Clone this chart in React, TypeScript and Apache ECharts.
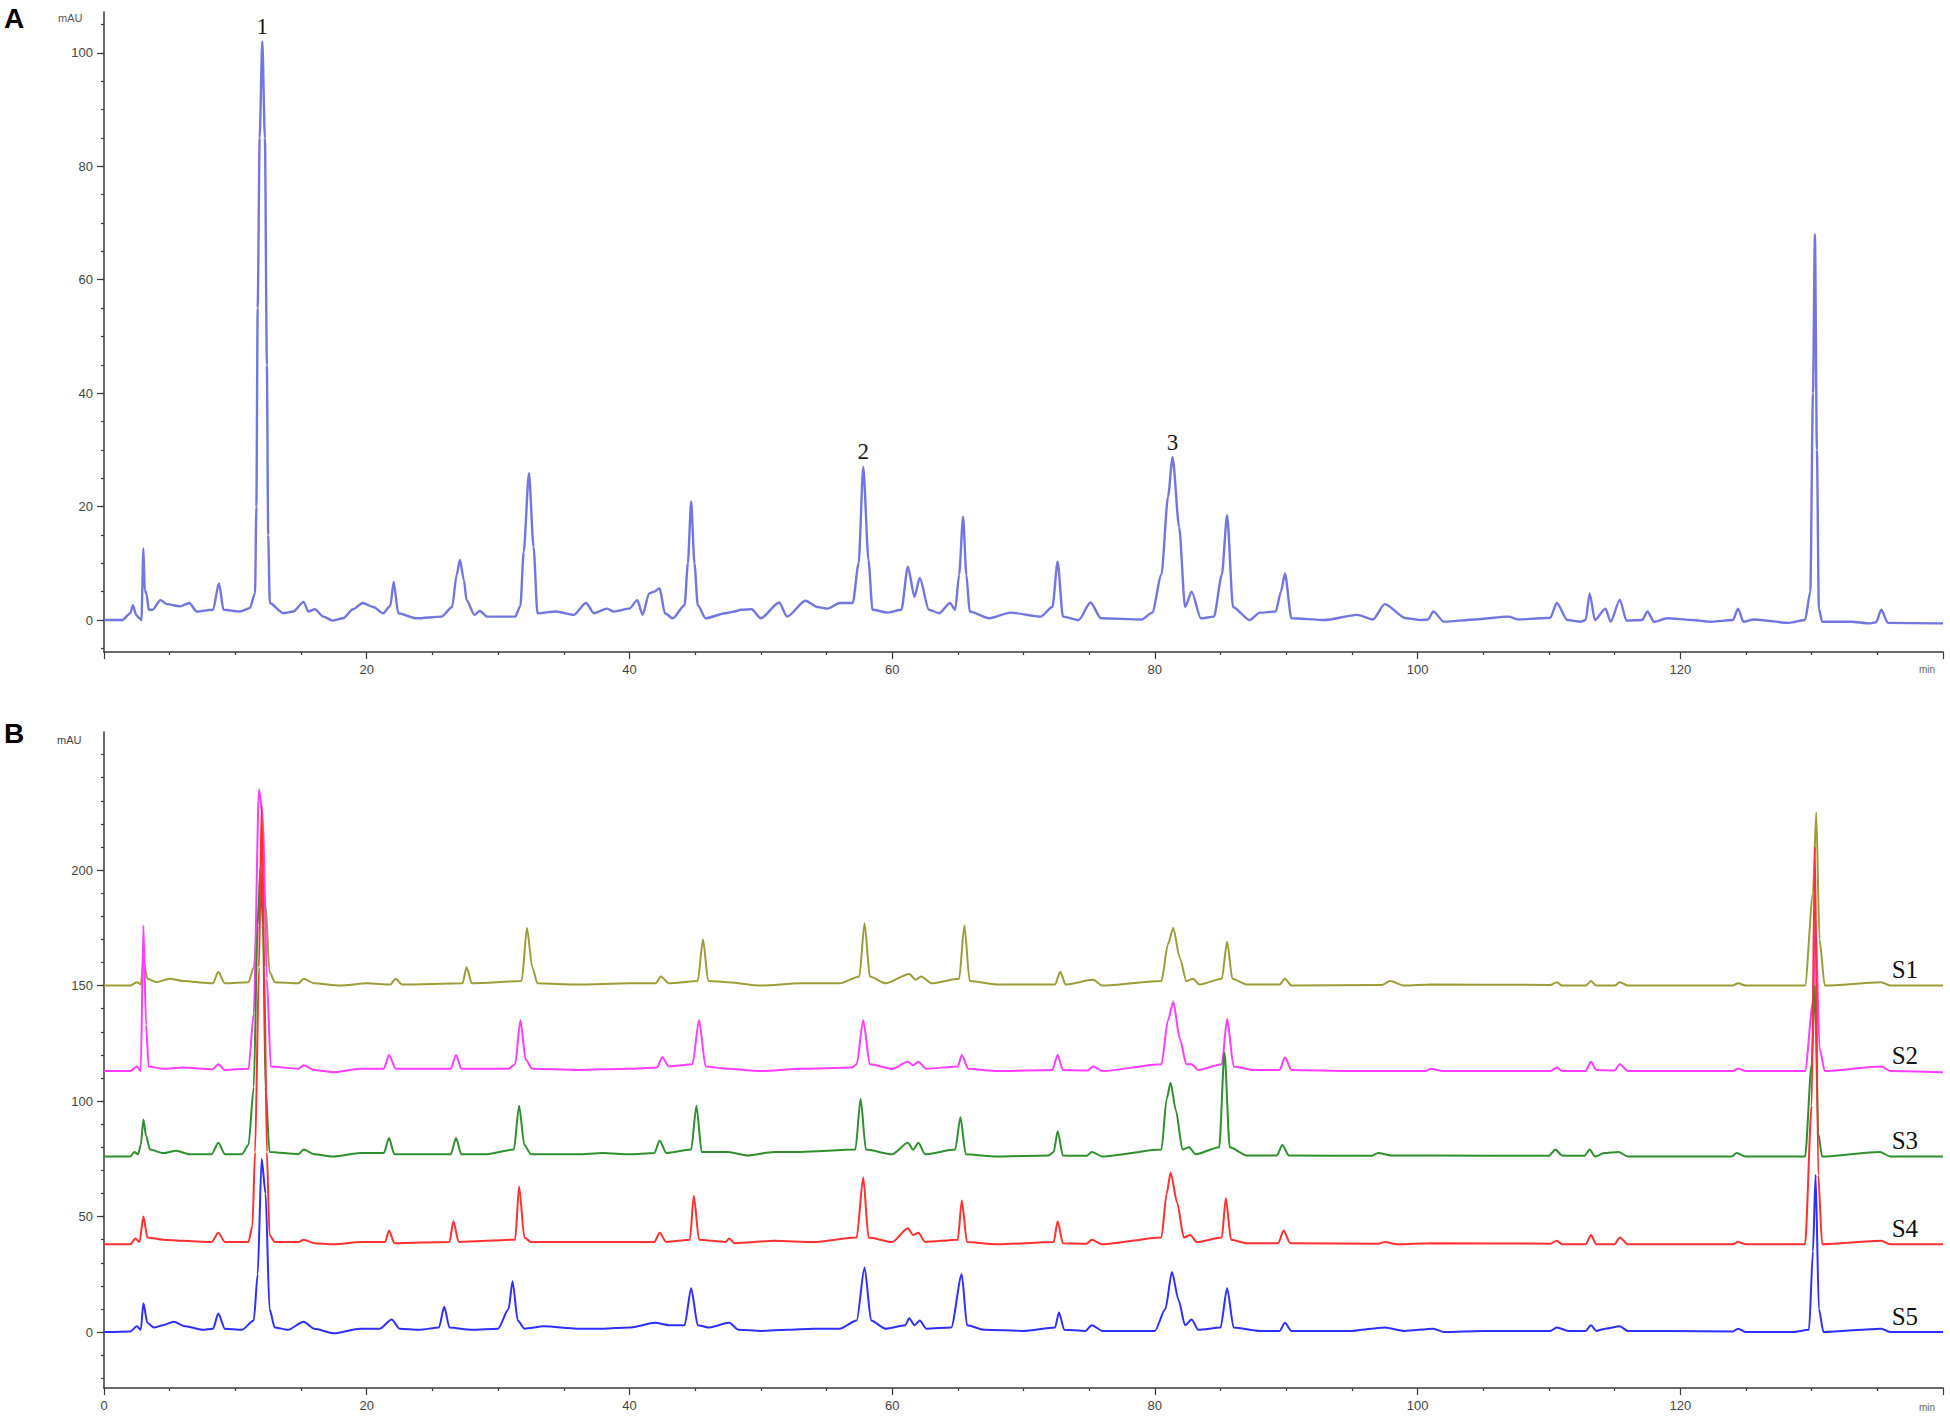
import React, { useEffect, useRef } from "react";
import * as echarts from "echarts";

// ---------- Panel A: single chromatogram (time min, mAU) ----------
const traceA: [number, number][] = [
  [0,0],[1.4,0],[2.0,1.2],[2.2,2.6],[2.45,0.9],[2.7,0.3],[2.85,0],[3.0,12.6],[3.1,5.3],[3.25,4.5],[3.4,1.8],[3.7,1.8],[4.3,3.5],[4.8,2.8],[5.8,2.4],[6.5,3.0],[7.05,1.5],[8.3,1.8],[8.75,6.5],[9.1,1.8],[10.35,1.5],[11.1,2.1],[11.5,4.7],[11.6,20],[11.7,55],[11.85,85],[12.05,102],[12.25,85],[12.4,45],[12.5,15],[12.62,3],[13.65,1.2],[14.4,1.5],[15.2,3.2],[15.55,1.5],[16.05,1.9],[16.7,0.6],[17.4,-0.1],[18.2,0.3],[18.95,1.9],[19.7,3.0],[20.5,2.3],[21.25,1.2],[21.8,2.5],[22.05,6.7],[22.4,1.2],[23.8,0.3],[25.7,0.6],[26.5,2.3],[26.85,8],[27.1,10.6],[27.4,7],[27.6,3.5],[28.2,0.9],[28.6,1.6],[29.2,0.6],[31.3,0.6],[31.7,2.5],[31.95,12],[32.35,25.9],[32.7,12.9],[33.0,1.2],[34.4,1.5],[35.75,0.9],[36.7,3.0],[37.3,1.2],[38.3,2.0],[38.8,1.5],[40,2.0],[40.6,3.5],[41.0,0.9],[41.5,4.7],[41.9,5.0],[42.3,5.6],[42.7,1.2],[43.3,0.3],[44.2,2.6],[44.45,10],[44.7,20.9],[44.95,10],[45.2,2.6],[45.8,0.3],[47.3,1.2],[48.0,1.5],[48.5,1.8],[49.3,1.9],[50,0.3],[51.4,3.1],[52,0.6],[53.4,3.4],[54.3,2.3],[55.1,2.0],[56,3.0],[57,3.0],[57.45,10],[57.8,27],[58.2,10.6],[58.5,1.8],[59.7,1.3],[60.7,1.8],[61.2,9.4],[61.7,4.1],[62.1,7.4],[62.8,1.8],[63.6,1.2],[64.4,3.0],[64.8,1.8],[65.1,8],[65.4,18.2],[65.65,8],[65.9,1.5],[67.4,0.3],[69,1.3],[71.3,0.6],[72.2,2.3],[72.6,10.3],[73,0.6],[74.2,0],[75.1,3.1],[75.9,0.3],[79,0.1],[79.8,1.3],[80.5,8],[81.0,21.7],[81.35,28.7],[81.85,16.4],[82.3,2.3],[82.8,5.0],[83.5,0.3],[84.5,0.6],[85.1,8],[85.5,18.5],[85.95,2.3],[87.2,0],[88.0,1.3],[89.2,1.5],[89.6,5],[89.9,8.2],[90.4,0.3],[92.9,0],[95.4,0.9],[96.6,0.1],[97.5,2.8],[99.1,0.3],[100.3,0],[100.8,0.1],[101.2,1.5],[102,-0.3],[104.4,0.1],[106.9,0.6],[107.7,0.1],[109.4,0.3],[110.1,0.4],[110.6,3.0],[111.4,0],[112.4,-0.3],[112.8,0],[113.1,4.7],[113.5,0],[114.3,2.0],[114.7,-0.3],[115.4,3.6],[115.9,-0.1],[117.1,0],[117.5,1.5],[118,-0.3],[119,0.3],[120.9,0],[122.3,-0.3],[124.0,0],[124.4,2.0],[124.8,-0.3],[125.6,0.1],[128.3,-0.5],[129.5,0],[129.9,5],[130.1,40],[130.25,68],[130.4,30],[130.55,2],[130.8,-0.3],[133,-0.3],[134.4,-0.6],[134.9,-0.4],[135.3,1.8],[135.8,-0.5],[139.5,-0.6],[140,-0.6]
];
const peakLabelsA = ["1", "2", "3"];
const peakTimesA = [12.05, 57.8, 81.35];
const peakHeightsA = [102, 27, 28.7];

// ---------- Panel B: five samples, values relative to each baseline ----------
const sampleNames = ["S1", "S2", "S3", "S4", "S5"];
const sampleBaselines = [150, 113, 76, 38, 0];

const traceS1: [number, number][] = [
  [0,0],[2,0],[2.5,1.5],[2.8,0.5],[3.0,11],[3.3,3],[4,1.5],[5,3],[6,2],[8.3,1],[8.7,6],[9.2,1],[11,1.5],[11.4,8],[11.8,35],[12.0,48],[12.3,35],[12.6,6],[13,1.5],[14.8,1],[15.2,3],[16,1],[18,0],[20,1],[21.8,0.5],[22.2,3],[22.7,0.5],[27.3,1],[27.6,8],[28,1],[31.8,2],[32.2,25],[32.6,8],[33,1],[36,0.5],[40,1],[42,1],[42.4,4],[43,1],[45.2,2],[45.6,20],[46,2],[47.5,1.5],[50,0],[53,1],[56,1],[57.5,4],[57.9,27],[58.3,4],[59.5,1],[61.3,5],[61.8,2.5],[62.2,4],[63,1],[65.1,3],[65.5,26],[65.9,2],[68,0.5],[72.4,0.5],[72.8,6],[73.2,0.5],[75.3,2.5],[76,0],[80.5,2],[81.0,18],[81.4,25],[81.9,12],[82.4,2],[82.9,3],[83.4,0.5],[85.1,3],[85.5,19],[85.9,3],[87,0.5],[89.5,0.5],[89.9,3],[90.4,0],[97.3,0.3],[97.9,2],[99,0],[101,0.5],[110.1,0.3],[110.6,1.5],[111,0],[112.8,0],[113.2,2],[113.6,0],[115.0,0],[115.4,1.5],[116,0],[124,0],[124.4,1],[125,0],[129.5,0],[130.1,40],[130.35,75],[130.6,20],[131,0],[135.3,1.5],[136,0],[140,0]
];
const traceS2: [number, number][] = [
  [0,0],[2,0],[2.5,2],[2.8,0],[3.0,63],[3.2,20],[3.4,2],[4.5,1],[6,1.5],[8.3,0.8],[8.7,3],[9.2,0.5],[11,1],[11.4,25],[11.8,122],[12.1,110],[12.4,40],[12.7,2],[14.8,1],[15.2,2.5],[16,0.5],[17.5,-0.5],[19.5,1],[21.3,1],[21.7,7],[22.2,1],[26.4,1],[26.8,7],[27.2,1],[30.8,1],[31.3,3],[31.7,22],[32.1,5],[32.6,1],[36,0.5],[40,1],[42.1,1.5],[42.5,6],[43,2],[44.8,3],[45.3,22],[45.8,2],[47.5,1],[50,0],[53,1],[56.9,1.5],[57.3,3],[57.8,22],[58.3,3],[60,1],[61.2,4],[61.6,2.5],[62,4],[62.6,1],[65.0,2],[65.3,7],[65.8,1],[68,0],[72.2,0.5],[72.6,7],[73,0.5],[74.9,0.3],[75.3,2],[76,0],[80.5,3],[81.0,22],[81.4,30],[81.9,14],[82.4,3],[82.8,3],[83.3,0.5],[85.1,3],[85.5,22.5],[86,2],[87.5,0.5],[89.5,0.5],[89.9,6],[90.4,0.5],[95,0],[100.6,0],[101,1],[102,0],[110.1,0],[110.6,1.5],[111,0],[112.8,0],[113.2,4],[113.6,0.5],[115,0.3],[115.4,3],[116,0],[124,0],[124.4,1],[125,0],[129.5,0],[130.1,30],[130.3,65],[130.6,10],[131,0],[135.3,2],[136,0],[140,-0.5]
];
const traceS3: [number, number][] = [
  [0,0],[2,0],[2.3,2],[2.6,1],[2.8,5],[3.0,16],[3.2,9],[3.5,3],[4.5,1.5],[5.5,2.5],[6.5,1],[8.2,1],[8.7,6],[9.2,1],[10.5,1],[11.0,5],[11.4,30],[11.7,100],[11.9,125],[12.1,100],[12.3,30],[12.6,2],[14.8,1],[15.2,3],[16,1],[17.5,0],[19.5,1.5],[21.3,1.5],[21.7,8],[22.1,1],[26.4,1],[26.8,8],[27.2,1],[29,1],[31.2,3],[31.6,22],[32.0,5],[32.5,1],[36,1],[38,1.5],[40,1],[41.9,1.5],[42.3,7],[42.8,1.5],[44.7,3],[45.1,22],[45.5,2],[47.5,2],[49,0.5],[51,2],[53,2],[57.2,3],[57.6,25],[58,3],[60,1],[61.2,6],[61.6,3],[62,6],[62.5,1],[64.8,3],[65.2,17],[65.6,1],[68,0],[71.9,0.5],[72.3,2],[72.6,11],[73,0.5],[74.8,0.3],[75.2,2],[76,0],[80.5,3],[80.9,25],[81.2,32],[81.6,20],[82.1,3],[82.6,4],[83.1,1],[84.9,4],[85.3,45],[85.7,4],[87,0.5],[89.3,0.5],[89.7,5],[90.2,0.5],[96.5,0.3],[97,1.5],[98,0.5],[101,0.5],[110,0.3],[110.5,3],[111,0.5],[112.7,0.3],[113.1,3],[113.5,0],[114.2,1.5],[115.3,2],[116,0],[123.9,0],[124.3,1.5],[125,0],[129.5,0],[130.0,40],[130.25,74],[130.5,10],[130.8,0],[135.2,2],[136,0],[140,0]
];
const traceS4: [number, number][] = [
  [0,0],[2,0],[2.4,2.5],[2.7,1],[3.0,12],[3.3,3],[4.5,2],[6,1.5],[8.2,1],[8.7,5],[9.2,1],[11,1],[11.3,8],[11.5,40],[11.8,120],[12.0,190],[12.2,120],[12.4,40],[12.6,4],[13,1],[14.8,1],[15.2,2],[16,0.5],[17.5,0],[19.5,1],[21.4,1],[21.7,6],[22.1,0.5],[26.3,1],[26.6,10],[27,1],[31.3,2],[31.6,25],[32,3],[32.5,1],[38,1],[40,1],[41.9,1],[42.3,5],[42.8,1],[44.6,2],[44.9,21],[45.3,2],[47.3,1],[47.6,2.5],[48,0.5],[51,1.5],[54,1],[57.3,3],[57.8,29],[58.2,3],[60,1],[61.2,7],[61.6,4],[62,5],[62.5,1],[65.0,2],[65.3,19],[65.7,1],[68,0],[72.3,1],[72.6,10],[73,0.5],[74.8,0.3],[75.2,2],[76,0],[80.5,3],[80.9,22],[81.2,31],[81.7,18],[82.2,3],[82.7,4],[83.2,1],[85.1,3],[85.4,20],[85.8,2],[87,0.5],[89.4,0.5],[89.8,6],[90.3,0.5],[97,0.3],[97.5,1],[98.5,0],[101,0.5],[110.1,0.3],[110.6,1.5],[111,0],[112.8,0],[113.2,4],[113.6,0],[115,0],[115.4,3],[116,0],[124,0],[124.4,1],[125,0],[129.5,0],[130.0,60],[130.25,172],[130.5,30],[130.8,0],[135.3,1.5],[136,0],[140,0]
];
const traceS5: [number, number][] = [
  [0,0],[2,0.3],[2.5,2.5],[2.8,1],[3.0,12.5],[3.3,4],[3.8,2],[4.5,3],[5.3,4.5],[6.2,2.5],[7.5,1],[8.3,1.5],[8.7,8],[9.2,1.5],[10.5,1],[11.4,5],[11.7,25],[12.0,75],[12.3,60],[12.6,10],[13,2],[14,1],[15.2,4.5],[16,1.5],[17.5,-0.5],[19.5,1.5],[21,1.5],[21.9,5.5],[22.5,1.5],[24,1],[25.5,2],[25.9,11],[26.3,2],[28,1],[30,1.5],[30.8,10],[31.1,22],[31.5,5],[32,1.5],[33.5,2.5],[36,1.5],[38,1.5],[40,2],[42,4],[43,3],[44.2,3],[44.7,19],[45.2,3],[46,2],[47.6,4],[48.3,1],[50,0.5],[52,1],[54,1.5],[56,1.5],[57.3,5],[57.9,28],[58.4,5],[59.5,1.5],[61,3],[61.3,6],[61.7,3],[62.1,5],[62.6,1.5],[64.5,2],[65.3,25],[65.7,3],[67,1],[70,0.5],[72.4,2],[72.7,8.5],[73.1,1],[74.7,0.5],[75.2,3],[76,0.5],[80,0.5],[80.8,10],[81.3,26],[81.8,14],[82.3,3],[82.8,5.5],[83.3,1],[85,2],[85.5,19],[86,2],[88,0.5],[89.5,0.5],[89.9,4],[90.4,0.5],[95,0.5],[96.5,1.5],[97.5,2],[99,0.5],[101.2,1.5],[102,0],[105,0.5],[108,0.5],[110.1,0.5],[110.6,2],[111.5,0.5],[112.8,0.5],[113.2,3],[113.6,0.5],[114.3,1.5],[115.4,2.5],[116,0.5],[119,0.5],[124,0.3],[124.4,1.5],[125,0],[128.5,0],[129.8,1],[130.1,35],[130.3,68],[130.55,10],[130.9,0],[135.3,1.5],[136,0],[140,0]
];
const sampleTraces = [traceS1, traceS2, traceS3, traceS4, traceS5];

// axis tick values
const yLabelsA = [0, 20, 40, 60, 80, 100];
const yMinorA = [-5, 0, 5, 10, 15, 20, 25, 30, 35, 40, 45, 50, 55, 60, 65, 70, 75, 80, 85, 90, 95, 100, 105];
const yLabelsB = [0, 50, 100, 150, 200];
const yMinorB = [-20, -10, 0, 10, 20, 30, 40, 50, 60, 70, 80, 90, 100, 110, 120, 130, 140, 150, 160, 170, 180, 190, 200, 210, 220, 230, 240, 250];

// ---------- styles ----------
const colorA = "#6b6fdc";
const sampleColors = ["#9c9c38", "#ff3cff", "#2f8f2f", "#ff3030", "#2e2eff"];
const axisColor = "#3a3a3a";
const labelColor = "#444";
const sansFont = "'Liberation Sans', Arial, sans-serif";
const serifFont = "'Liberation Serif', 'Times New Roman', serif";

function buildOption() {
  const tickLabel = {
    fontFamily: sansFont,
    fontSize: 13,
    color: labelColor,
  };
  const xAxisFor = (grid: number, hideZero: boolean) => [
    {
      type: "value",
      gridIndex: grid,
      min: 0,
      max: 140,
      interval: 20,
      axisLine: { show: true, onZero: false, lineStyle: { color: axisColor, width: 1.5 } },
      axisTick: { show: true, length: 7, lineStyle: { color: axisColor, width: 1.2 } },
      minorTick: { show: true, splitNumber: 4, length: 3, lineStyle: { color: axisColor, width: 1.2 } },
      axisLabel: {
        ...tickLabel,
        margin: 11,
        formatter: (v: number) => (v === 140 || (hideZero && v === 0) ? "" : String(v)),
      },
      splitLine: { show: false },
      minorSplitLine: { show: false },
    },
  ];
  const yAxisFor = (grid: number, min: number, max: number, labels: number[], minor: number[]) => [
    {
      type: "value",
      gridIndex: grid,
      min,
      max,
      position: "left",
      axisLine: { show: true, onZero: false, lineStyle: { color: axisColor, width: 1.5 } },
      axisTick: { show: true, length: 7, customValues: labels, lineStyle: { color: axisColor, width: 1.2 } },
      axisLabel: { ...tickLabel, margin: 11, customValues: labels },
      splitLine: { show: false },
    },
    {
      type: "value",
      gridIndex: grid,
      min,
      max,
      position: "left",
      axisLine: { show: false, onZero: false },
      axisTick: { show: true, length: 3, customValues: minor, lineStyle: { color: axisColor, width: 1.2 } },
      axisLabel: { show: false },
      splitLine: { show: false },
    },
  ];

  const series: any[] = [];
  series.push({
    type: "line",
    name: "A",
    xAxisIndex: 0,
    yAxisIndex: 0,
    data: traceA,
    showSymbol: false,
    symbol: "none",
    smooth: 0.25,
    smoothMonotone: "x",
    lineStyle: { color: colorA, width: 2.4, opacity: 0.95 },
    z: 3,
    markPoint: {
      symbol: "circle",
      symbolSize: 1,
      itemStyle: { color: "rgba(0,0,0,0)" },
      label: {
        show: true,
        position: "top",
        distance: 3,
        fontFamily: serifFont,
        fontSize: 23,
        color: "#1a1a1a",
        formatter: (p: any) => p.name,
      },
      data: peakLabelsA.map((n, i) => ({ name: n, coord: [peakTimesA[i], peakHeightsA[i]] })),
    },
  });

  sampleNames.forEach((name, i) => {
    const base = sampleBaselines[i];
    series.push({
      type: "line",
      name,
      xAxisIndex: 1,
      yAxisIndex: 2,
      data: sampleTraces[i].map(([t, v]) => [t, v + base]),
      showSymbol: false,
      symbol: "none",
      smooth: 0.25,
      smoothMonotone: "x",
      lineStyle: { color: sampleColors[i], width: 2 },
      z: 3,
      markPoint: {
        symbol: "circle",
        symbolSize: 1,
        itemStyle: { color: "rgba(0,0,0,0)" },
        label: {
          show: true,
          position: "top",
          distance: 3,
          fontFamily: serifFont,
          fontSize: 25,
          color: "#111",
          formatter: (p: any) => p.name,
        },
        data: [{ name, coord: [137.1, base] }],
      },
    });
  });

  const textStyle = (text: string, size: number, weight: string | number, color: string, font: string) => ({
    text,
    fontSize: size,
    fontWeight: weight,
    fill: color,
    fontFamily: font,
  });

  return {
    animation: false,
    backgroundColor: "#ffffff",
    grid: [
      { left: 104, top: 12, width: 1839, height: 640, containLabel: false },
      { left: 104, top: 732, width: 1839, height: 656, containLabel: false },
    ],
    xAxis: [...xAxisFor(0, true), ...xAxisFor(1, false)],
    yAxis: [
      ...yAxisFor(0, -5.64, 107.2, yLabelsA, yMinorA),
      ...yAxisFor(1, -24.2, 259.8, yLabelsB, yMinorB),
    ],
    series,
    graphic: [
      { type: "text", left: 4, top: 4, style: textStyle("A", 28, "bold", "#000", sansFont) },
      { type: "text", left: 4, top: 719, style: textStyle("B", 28, "bold", "#000", sansFont) },
      { type: "text", left: 58, top: 12, style: textStyle("mAU", 11, "normal", "#555", sansFont) },
      { type: "text", left: 57, top: 734, style: textStyle("mAU", 11, "normal", "#444", sansFont) },
      { type: "text", left: 1919, top: 664, style: textStyle("min", 10, "normal", "#666", sansFont) },
      { type: "text", left: 1919, top: 1402, style: textStyle("min", 10, "normal", "#666", sansFont) },
    ],
  };
}

export default function App() {
  const ref = useRef<HTMLDivElement>(null);
  useEffect(() => {
    if (!ref.current) return;
    const chart = echarts.init(ref.current, null, { renderer: "svg" });
    chart.setOption(buildOption() as any);
    return () => chart.dispose();
  }, []);
  return (
    <div
      ref={ref}
      style={{ position: "fixed", left: 0, top: 0, width: 1950, height: 1421, background: "#fff" }}
    />
  );
}
